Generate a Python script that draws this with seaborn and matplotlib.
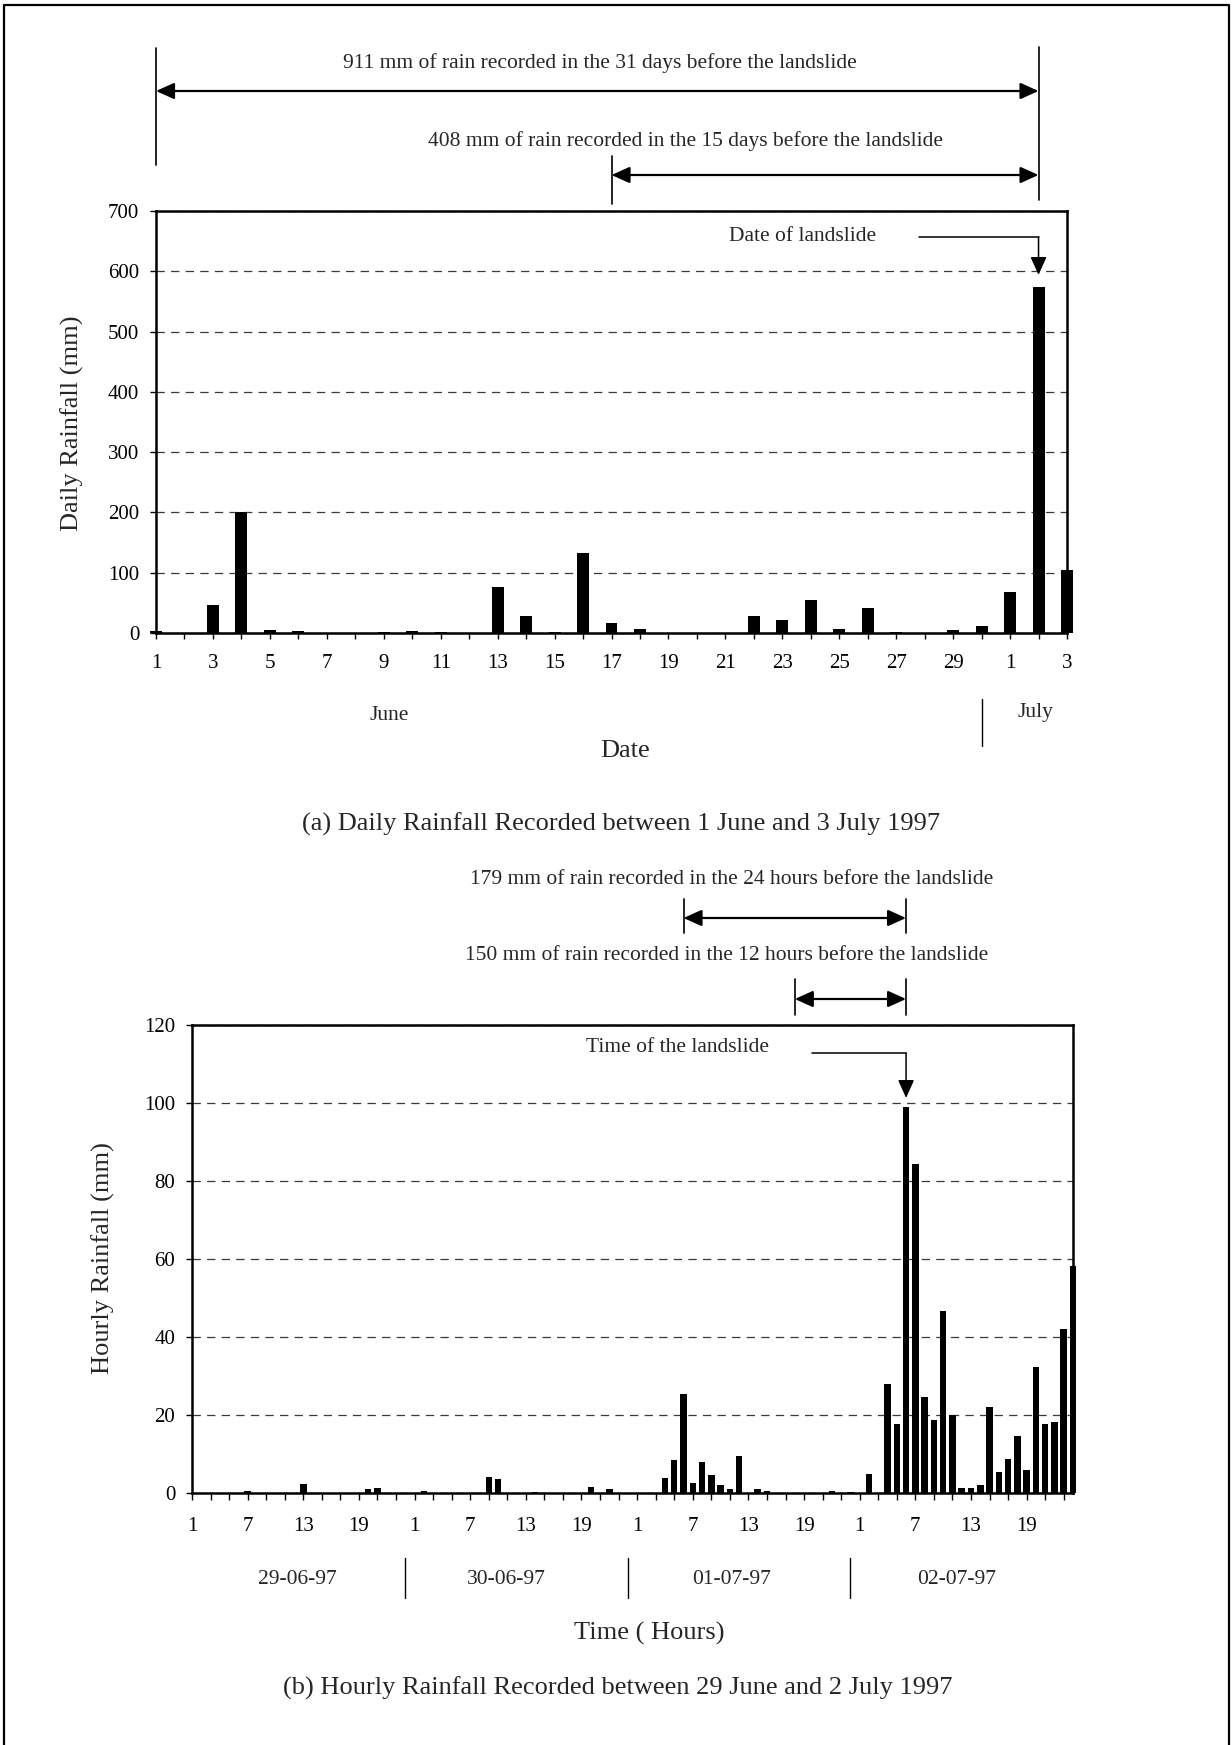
import numpy as np
import pandas as pd
import matplotlib
matplotlib.use("Agg")
import matplotlib.pyplot as plt
import matplotlib.transforms as mtransforms
from matplotlib.lines import Line2D
import seaborn as sns

# Daily rainfall, 1 June to 3 July 1997 (mm)
days = list(range(1, 34))
day_labels = [str(d) for d in range(1, 31)] + ["1", "2", "3"]
daily_rain = [3, 0, 46, 200, 5, 3, 0, 0, 1, 4, 1, 0, 77, 29, 2, 133, 17,
              7, 0, 0, 0, 29, 22, 54, 7, 42, 1, 0, 5, 11, 68, 574, 105]
month_names = ["June", "July"]

# Hourly rainfall, 29 June to 2 July 1997 (mm)
hours = list(range(1, 97))
hourly_rain = [
    # 29-06-97
    0, 0, 0, 0, 0, 0, 0.5, 0, 0, 0, 0, 0, 2.4, 0, 0, 0, 0, 0, 0, 0.9, 1.4, 0, 0, 0,
    # 30-06-97
    0, 0.4, 0, 0, 0, 0, 0, 0, 4.1, 3.7, 0, 0, 0, 0.2, 0, 0, 0, 0, 0, 1.5, 0, 0.9, 0, 0,
    # 01-07-97
    0, 0, 0, 3.9, 8.4, 25.5, 2.6, 8.0, 4.5, 2.0, 0.9, 9.5, 0, 0.9, 0.5, 0, 0, 0, 0, 0, 0, 0.4, 0, 0.2,
    # 02-07-97
    0, 4.8, 0, 28.0, 17.6, 98.9, 84.3, 24.6, 18.6, 46.7, 20.1, 1.4, 1.4, 2.0, 22.1, 5.4,
    8.6, 14.7, 6.0, 32.2, 17.8, 18.1, 42.0, 58.2,
]
date_names = ["29-06-97", "30-06-97", "01-07-97", "02-07-97"]

sns.set_style("ticks")
plt.rcParams["font.family"] = ["Liberation Serif", "DejaVu Serif"]
plt.rcParams["lines.scale_dashes"] = False

W, H = 1232, 1745
fig = plt.figure(figsize=(W / 100, H / 100), dpi=100)
fig.patch.set_facecolor("white")


def fx(px):
    return px / W


def fy(py):
    return 1 - py / H


TICK_FS = 15
NOTE_FS = 15.5
LABEL_FS = 19
CAP_FS = 19
GROUP_FS = 15.5

ax1 = fig.add_axes([fx(156), fy(633), (1067 - 156) / W, (633 - 211) / H])
ax2 = fig.add_axes([fx(192), fy(1493), (1073 - 192) / W, (1493 - 1025) / H])

daily_df = pd.DataFrame({"day": days, "rain": daily_rain})
hourly_df = pd.DataFrame({"hour": hours, "rain": hourly_rain})

sns.barplot(data=daily_df, x="day", y="rain", native_scale=True, color="black",
            saturation=1, width=0.42, errorbar=None, ax=ax1, zorder=3,
            linewidth=0, edgecolor="black")
sns.barplot(data=hourly_df, x="hour", y="rain", native_scale=True, color="black",
            saturation=1, width=0.7, errorbar=None, ax=ax2, zorder=3,
            linewidth=0, edgecolor="black")

for ax in (ax1, ax2):
    for p in ax.patches:
        p.set_clip_on(False)
    ax.set_axisbelow(True)
    ax.grid(axis="y", linestyle=(0, (6, 4.5)), color="#3a3a3a", linewidth=0.9)
    ax.grid(axis="x", visible=False)
    for side in ("left", "right", "top", "bottom"):
        ax.spines[side].set_visible(True)
        ax.spines[side].set_color("black")
        ax.spines[side].set_linewidth(1.8)
    ax.tick_params(axis="both", direction="out", color="black", width=1.0,
                   length=4, labelsize=TICK_FS, labelcolor="black")

# Daily chart axes
ax1.set_xlim(1, 33)
ax1.set_ylim(0, 700)
ax1.set_yticks(range(0, 701, 100))
ax1.set_xticks(days)
ax1.set_xticklabels([lab if i % 2 == 0 else "" for i, lab in enumerate(day_labels)])
ax1.tick_params(axis="x", pad=11)
ax1.tick_params(axis="y", pad=8)
ax1.set_xlabel("Date", fontsize=LABEL_FS, va="center")
ax1.xaxis.set_label_coords((625 - 156) / 911, (633 - 751) / 422)
ax1.set_ylabel("Daily Rainfall (mm)", fontsize=LABEL_FS, va="center")
ax1.yaxis.set_label_coords((72 - 156) / 911, (633 - 423) / 422)

# Hourly chart axes
ax2.set_xlim(1, 96)
ax2.set_ylim(0, 120)
ax2.set_yticks(range(0, 121, 20))
hour_ticks = list(range(1, 97, 2))
ax2.set_xticks(hour_ticks)
ax2.set_xticklabels([str((h - 1) % 24 + 1) if (h - 1) % 6 == 0 else "" for h in hour_ticks])
ax2.tick_params(axis="x", pad=12, length=5)
ax2.tick_params(axis="y", pad=8)
ax2.set_xlabel("Time ( Hours)", fontsize=LABEL_FS, va="center")
ax2.xaxis.set_label_coords((649 - 192) / 881, (1493 - 1633) / 468)
ax2.set_ylabel("Hourly Rainfall (mm)", fontsize=LABEL_FS, va="center")
ax2.yaxis.set_label_coords((103 - 192) / 881, (1493 - 1258) / 468)

t1 = mtransforms.blended_transform_factory(ax1.transData, fig.transFigure)
t2 = mtransforms.blended_transform_factory(ax2.transData, fig.transFigure)

HEAD = "<|-|>,head_length=1.0,head_width=0.45"


def span_arrow(ax, trans, x0, x1, ypx):
    ax.annotate("", xy=(x1, fy(ypx)), xytext=(x0, fy(ypx)), xycoords=trans,
                textcoords=trans, annotation_clip=False,
                arrowprops=dict(arrowstyle=HEAD, color="black", lw=1.6,
                                mutation_scale=11, shrinkA=0, shrinkB=0))


def vline(ax, trans, x, y0px, y1px, lw=1.2):
    ax.add_line(Line2D([x, x], [fy(y0px), fy(y1px)], transform=trans,
                       color="black", lw=lw, clip_on=False))


# Landslide positions follow the peak bars
slide_day = days[int(np.argmax(daily_rain))]
slide_hour = hours[int(np.argmax(hourly_rain))]

# Antecedent-rainfall spans above the daily chart
fig.text(fx(600), fy(63), "911 mm of rain recorded in the 31 days before the landslide",
         ha="center", va="center", fontsize=NOTE_FS)
vline(ax1, t1, slide_day - 31, 48, 165)
vline(ax1, t1, slide_day, 47, 200)
span_arrow(ax1, t1, slide_day - 31, slide_day, 91)
fig.text(fx(686), fy(141), "408 mm of rain recorded in the 15 days before the landslide",
         ha="center", va="center", fontsize=NOTE_FS)
vline(ax1, t1, slide_day - 15, 156, 204)
span_arrow(ax1, t1, slide_day - 15, slide_day, 175)

# Landslide callout on the daily chart
ax1.plot([27.8, slide_day], [657, 657], color="black", lw=1.1, clip_on=False)
ax1.annotate("", xy=(slide_day, 594), xytext=(slide_day, 657),
             arrowprops=dict(arrowstyle="-|>,head_length=1.0,head_width=0.45",
                             color="black", lw=1.1, mutation_scale=11,
                             shrinkA=0, shrinkB=0))
ax1.text(23.7, 657, "Date of landslide", ha="center", va="center", fontsize=NOTE_FS)

# Month labels under the daily chart
ax1.text(9.2, (633 - 715) / 422, month_names[0], transform=ax1.get_xaxis_transform(),
         ha="center", va="center", fontsize=GROUP_FS)
ax1.text(31.9, (633 - 712) / 422, month_names[1], transform=ax1.get_xaxis_transform(),
         ha="center", va="center", fontsize=GROUP_FS)
vline(ax1, t1, 30, 699, 746, lw=1.0)

fig.text(fx(621), fy(824), "(a) Daily Rainfall Recorded between 1 June and 3 July 1997",
         ha="center", va="center", fontsize=CAP_FS)

# Antecedent-rainfall spans above the hourly chart
fig.text(fx(732), fy(880), "179 mm of rain recorded in the 24 hours before the landslide",
         ha="center", va="center", fontsize=NOTE_FS)
vline(ax2, t2, slide_hour - 24, 899, 933)
vline(ax2, t2, slide_hour, 899, 933)
span_arrow(ax2, t2, slide_hour - 24, slide_hour, 918)
fig.text(fx(727), fy(956), "150 mm of rain recorded in the 12 hours before the landslide",
         ha="center", va="center", fontsize=NOTE_FS)
vline(ax2, t2, slide_hour - 12, 979, 1015)
vline(ax2, t2, slide_hour, 979, 1015)
span_arrow(ax2, t2, slide_hour - 12, slide_hour, 999)

# Landslide callout on the hourly chart
ax2.plot([67.9, slide_hour], [112.8, 112.8], color="black", lw=1.1, clip_on=False)
ax2.annotate("", xy=(slide_hour, 101.3), xytext=(slide_hour, 112.8),
             arrowprops=dict(arrowstyle="-|>,head_length=1.0,head_width=0.45",
                             color="black", lw=1.1, mutation_scale=11,
                             shrinkA=0, shrinkB=0))
ax2.text(53.3, 114.2, "Time of the landslide", ha="center", va="center", fontsize=NOTE_FS)

# Date labels under the hourly chart
for name, xc in zip(date_names, [12.4, 34.9, 59.2, 83.5]):
    ax2.text(xc, (1493 - 1580) / 468, name, transform=ax2.get_xaxis_transform(),
             ha="center", va="center", fontsize=GROUP_FS)
for k in (1, 2, 3):
    vline(ax2, t2, 24 * k, 1558, 1598, lw=1.0)

fig.text(fx(618), fy(1688), "(b) Hourly Rainfall Recorded between 29 June and 2 July 1997",
         ha="center", va="center", fontsize=CAP_FS)

# Page frame
fig.add_artist(Line2D([fx(4), fx(4), fx(1229), fx(1229)],
                      [fy(1745), fy(5), fy(5), fy(1745)],
                      transform=fig.transFigure, color="black", lw=1.6))

fig.savefig("out.png", dpi=100, facecolor="white")
